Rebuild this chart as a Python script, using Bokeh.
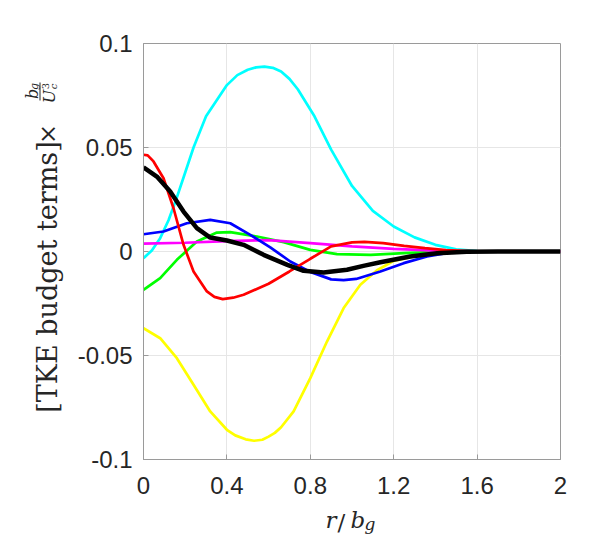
from bokeh.plotting import figure
from bokeh.models import FixedTicker, NumeralTickFormatter, Range1d
from bokeh.layouts import row, column
from bokeh.core.properties import value
from bokeh.embed import file_html
from bokeh.resources import INLINE

# ---------------- data ----------------
r_cyan = [0, 0.04, 0.08, 0.12, 0.16, 0.2, 0.24, 0.3, 0.4, 0.45, 0.5, 0.54, 0.58, 0.62, 0.66, 0.70, 0.74, 0.82, 0.9, 1.0, 1.1, 1.2, 1.3, 1.4, 1.5, 1.6, 1.8, 2.0]
v_cyan = [-0.0032, 0.0005, 0.0064, 0.015, 0.026, 0.038, 0.050, 0.065, 0.080, 0.0848, 0.0874, 0.0885, 0.0889, 0.0883, 0.0865, 0.083, 0.078, 0.065, 0.049, 0.0315, 0.0195, 0.012, 0.0068, 0.0032, 0.0010, 0.0002, 0, 0]

r_yellow = [0, 0.08, 0.16, 0.24, 0.32, 0.4, 0.44, 0.49, 0.53, 0.57, 0.6, 0.63, 0.66, 0.72, 0.8, 0.88, 0.96, 1.04, 1.12, 1.2, 1.3, 1.4, 1.5, 1.6, 1.8, 2.0]
v_yellow = [-0.0369, -0.0417, -0.0513, -0.0641, -0.0769, -0.0857, -0.0884, -0.0903, -0.091, -0.0905, -0.089, -0.0872, -0.0845, -0.0769, -0.0609, -0.0433, -0.0272, -0.016, -0.009, -0.0045, -0.0022, -0.0009, -0.0003, 0, 0, 0]

r_red = [0, 0.02, 0.048, 0.096, 0.144, 0.192, 0.24, 0.304, 0.34, 0.38, 0.43, 0.48, 0.6, 0.7, 0.8, 0.9, 1.0, 1.06, 1.15, 1.25, 1.35, 1.45, 1.6, 1.8, 2.0]
v_red = [0.0465, 0.0462, 0.0433, 0.0352, 0.0208, 0.0032, -0.0096, -0.0192, -0.0218, -0.0229, -0.0222, -0.0208, -0.0155, -0.0096, -0.0035, 0.0025, 0.0044, 0.0046, 0.0040, 0.0027, 0.0016, 0.0007, 0.0001, 0, 0]

r_blue = [0, 0.096, 0.208, 0.32, 0.416, 0.512, 0.608, 0.704, 0.8, 0.9, 0.96, 1.02, 1.136, 1.248, 1.36, 1.47, 1.6, 2.0]
v_blue = [0.0083, 0.0096, 0.0136, 0.0152, 0.0136, 0.008, 0.002, -0.0048, -0.0098, -0.0134, -0.0138, -0.0132, -0.0096, -0.0056, -0.0024, -0.0005, 0, 0]

r_green = [0, 0.08, 0.16, 0.256, 0.352, 0.416, 0.544, 0.672, 0.8, 0.928, 1.09, 1.25, 1.41, 1.6, 2.0]
v_green = [-0.0184, -0.0128, -0.004, 0.0048, 0.0091, 0.0093, 0.0072, 0.0045, 0.0008, -0.0013, -0.0016, -0.0008, -0.0002, 0, 0]

r_magenta = [0, 0.2, 0.4, 0.6, 0.8, 1.0, 1.2, 1.4, 1.6, 2.0]
v_magenta = [0.0038, 0.0042, 0.0050, 0.0055, 0.0040, 0.0025, 0.0013, 0.0004, 0, 0]

r_black = [0, 0.064, 0.128, 0.192, 0.256, 0.32, 0.4, 0.48, 0.576, 0.69, 0.768, 0.864, 0.976, 1.06, 1.136, 1.28, 1.408, 1.55, 1.7, 2.0]
v_black = [0.0404, 0.036, 0.0288, 0.0192, 0.0112, 0.0067, 0.0053, 0.0032, -0.0016, -0.0064, -0.0093, -0.0101, -0.0088, -0.0068, -0.0052, -0.0024, -0.0008, -0.0001, 0, 0]

x_ticks = [0, 0.4, 0.8, 1.2, 1.6, 2]
y_ticks = [-0.1, -0.05, 0, 0.05, 0.1]

AX = "#9a9a9a"
TXT = "#262626"
SERIF = "DejaVu Serif"

# ---------------- layout sizes (page pixels) ----------------
LEFT_W = 70                  # strip holding the y label
MAIN_W, MAIN_H = 529, 508
BT, BB = 43, 49              # top / bottom borders of the main plot
BOTTOM_H = 32                # strip holding the x label

# ---------------- main plot ----------------
p = figure(width=MAIN_W, height=MAIN_H, output_backend="svg", toolbar_location=None,
           x_range=Range1d(0, 2), y_range=Range1d(-0.1, 0.1),
           min_border_left=73, min_border_right=39, min_border_top=BT, min_border_bottom=BB)
p.background_fill_color = "white"
p.border_fill_color = "white"
p.outline_line_color = AX

for ax in (p.xaxis[0], p.yaxis[0]):
    ax.axis_line_color = AX
    ax.major_tick_line_color = AX
    ax.major_tick_in = 5
    ax.major_tick_out = 0
    ax.minor_tick_line_color = None
    ax.major_label_text_font = "Liberation Sans"
    ax.major_label_text_font_size = "24px"
    ax.major_label_text_color = TXT
p.xaxis.ticker = FixedTicker(ticks=x_ticks)
p.yaxis.ticker = FixedTicker(ticks=y_ticks)
p.xaxis.formatter = NumeralTickFormatter(format="0.[0]")
p.yaxis.formatter = NumeralTickFormatter(format="0.[00]")
p.xaxis.major_label_standoff = 17
p.yaxis.major_label_standoff = 11

p.xgrid.ticker = FixedTicker(ticks=x_ticks)
p.ygrid.ticker = FixedTicker(ticks=y_ticks)
p.grid.grid_line_color = "#e6e6e6"
p.grid.grid_line_width = 1

LW = 2.7
p.line(r_yellow, v_yellow, line_color="#ffff00", line_width=LW)
p.line(r_cyan, v_cyan, line_color="#00ffff", line_width=LW)
p.line(r_green, v_green, line_color="#00ff00", line_width=LW)
p.line(r_magenta, v_magenta, line_color="#ff00ff", line_width=LW)
p.line(r_blue, v_blue, line_color="#0000ff", line_width=LW)
p.line(r_red, v_red, line_color="#ff0000", line_width=LW)
p.line(r_black, v_black, line_color="#000000", line_width=4.5)

# ---------------- strips for the axis titles (y given as -page_y) ----------------
def strip(w, h, ytop, ybot):
    f = figure(width=w, height=h, output_backend="svg", toolbar_location=None, title=None,
               x_range=Range1d(0, w), y_range=Range1d(-ybot, -ytop),
               min_border=0, min_border_left=0, min_border_right=0,
               min_border_top=0, min_border_bottom=0)
    f.axis.visible = False
    f.grid.visible = False
    f.outline_line_color = None
    f.background_fill_color = "white"
    f.border_fill_color = "white"
    return f

# the row aligns this strip's frame with the main plot's frame (page y 43..459)
yl = strip(LEFT_W, MAIN_H, BT, MAIN_H - BB)
xl = strip(LEFT_W + MAIN_W, BOTTOM_H, MAIN_H, MAIN_H + BOTTOM_H)

def txt(f, s, x, py, size, style="normal", angle=0, align="left", baseline="alphabetic"):
    f.text(x=[x], y=[-py], text=[s], text_font=value(SERIF), text_font_size=size,
           text_font_style=style, text_color=TXT, angle=angle, angle_units="deg",
           text_align=align, text_baseline=baseline)

# y label: [TKE budget terms] x b_g / U_c^3 (rotated)
txt(yl, "[TKE budget terms]", 47, 276.5, "27px", "normal", 90, "center", "middle")
txt(yl, "\u00d7", 47.5, 133.5, "24px", "normal", 90, "center", "middle")
txt(yl, "b", 32, 93.5, "16px", "italic", 90, "center", "middle")
txt(yl, "g", 34, 86, "11px", "italic", 90, "center", "middle")
yl.segment(x0=[39.5], y0=[-82], x1=[39.5], y1=[-100], line_color=TXT, line_width=1)
txt(yl, "U", 49, 96, "16px", "italic", 90, "center", "middle")
txt(yl, "3", 44.5, 85.5, "10px", "normal", 90, "center", "middle")
txt(yl, "c", 53, 86, "10px", "italic", 90, "center", "middle")

# x label: r/b_g
txt(xl, "r", 325, 519, "23px", "italic")
txt(xl, "/", 337, 521, "23px", "normal")
txt(xl, "b", 350, 519, "23px", "italic")
txt(xl, "g", 364, 523, "17px", "italic")

layout = column(row(yl, p), xl)
open("out.html", "w").write(file_html(layout, INLINE))
